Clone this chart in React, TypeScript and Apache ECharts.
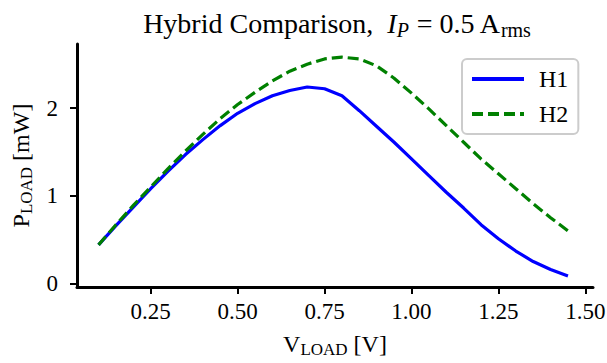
import React, { useEffect, useRef } from "react";
import * as echarts from "echarts";

const xValues = [0.1, 0.15, 0.2, 0.25, 0.3, 0.35, 0.4, 0.45, 0.5, 0.55, 0.6, 0.65, 0.7, 0.75, 0.8, 0.85, 0.9, 0.95, 1.0, 1.05, 1.1, 1.15, 1.2, 1.25, 1.3, 1.35, 1.4, 1.45];
const h1Values = [0.44, 0.66, 0.87, 1.08, 1.28, 1.47, 1.64, 1.8, 1.94, 2.05, 2.14, 2.2, 2.24, 2.22, 2.14, 1.97, 1.79, 1.61, 1.42, 1.23, 1.04, 0.86, 0.67, 0.51, 0.37, 0.25, 0.16, 0.085];
const h2Values = [0.44, 0.67, 0.89, 1.1, 1.31, 1.51, 1.7, 1.88, 2.04, 2.18, 2.31, 2.42, 2.5, 2.56, 2.58, 2.56, 2.48, 2.34, 2.17, 1.99, 1.8, 1.61, 1.42, 1.25, 1.08, 0.91, 0.75, 0.6];
const xTicks = [0.25, 0.5, 0.75, 1.0, 1.25, 1.5];
const yTicks = [0, 1, 2];
const seriesNames = ["H1", "H2"];

const FONT = "'Liberation Serif', 'Times New Roman', serif";

export default function App() {
  const ref = useRef<HTMLDivElement>(null);
  useEffect(() => {
    document.body.style.margin = "0";
    const chart = echarts.init(ref.current!, null, { renderer: "svg" });
    const labelRich = {
      n: { fontFamily: FONT, fontSize: 24, color: "#000", fontWeight: "normal" },
      s: { fontFamily: FONT, fontSize: 17, color: "#000", fontWeight: "normal", padding: [12, 0, 0, 0] },
    };
    chart.setOption({
      animation: false,
      backgroundColor: "#fff",
      title: {
        text: "{n|Hybrid Comparison,  }{i|I}{is|P}{n| = 0.5 A}{s|rms}",
        left: 332,
        top: 1,
        textAlign: "center",
        textStyle: {
          fontWeight: "normal",
          rich: {
            n: { fontFamily: FONT, fontSize: 28, fontWeight: "normal", color: "#000" },
            i: { fontFamily: FONT, fontSize: 28, fontWeight: "normal", fontStyle: "italic", color: "#000" },
            is: { fontFamily: FONT, fontSize: 20, fontWeight: "normal", fontStyle: "italic", color: "#000", padding: [14, 0, 0, 0] },
            s: { fontFamily: FONT, fontSize: 20, fontWeight: "normal", color: "#000", padding: [14, 0, 0, 0] },
          },
        },
      },
      grid: { left: 77, right: 14, top: 44, bottom: 76, containLabel: false, outerBoundsMode: "none" },
      legend: {
        orient: "vertical",
        left: 462,
        top: 59,
        padding: [8, 10, 8, 8],
        itemGap: 11,
        itemWidth: 52,
        itemHeight: 14,
        itemStyle: { opacity: 0 },
        lineStyle: { width: 4 },
        borderColor: "#cccccc",
        borderWidth: 2,
        borderRadius: 5,
        backgroundColor: "rgba(255,255,255,0.8)",
        textStyle: { fontFamily: FONT, fontSize: 24, color: "#000", padding: [0, 0, 0, 10] },
        data: seriesNames,
      },
      xAxis: {
        type: "value",
        min: 0.038,
        max: 1.522,
        name: "{n|V}{s|LOAD}{n| [V]}",
        nameLocation: "middle",
        nameGap: 42,
        nameTextStyle: { rich: labelRich },
        axisLine: { onZero: false, lineStyle: { color: "#000", width: 3 } },
        axisTick: { show: true, length: 7, customValues: xTicks, lineStyle: { color: "#000", width: 2 } },
        axisLabel: {
          customValues: xTicks,
          margin: 13,
          fontFamily: FONT,
          fontSize: 23,
          color: "#000",
          formatter: (v: number) => v.toFixed(2),
        },
        splitLine: { show: false },
      },
      yAxis: {
        type: "value",
        min: -0.04,
        max: 2.73,
        name: "{n|P}{s|LOAD}{n| [mW]}",
        nameLocation: "middle",
        nameGap: 42,
        nameTextStyle: { rich: labelRich },
        axisLine: { show: true, onZero: false, lineStyle: { color: "#000", width: 3 } },
        axisTick: { show: true, length: 7, customValues: yTicks, lineStyle: { color: "#000", width: 2 } },
        axisLabel: {
          customValues: yTicks,
          margin: 19,
          fontFamily: FONT,
          fontSize: 23,
          color: "#000",
          formatter: (v: number) => String(v),
        },
        splitLine: { show: false },
      },
      series: [
        {
          name: seriesNames[0],
          type: "line",
          symbol: "none",
          data: xValues.map((x, i) => [x, h1Values[i]]),
          lineStyle: { color: "#0000ff", width: 3.2 },
          itemStyle: { color: "#0000ff" },
          z: 2,
        },
        {
          name: seriesNames[1],
          type: "line",
          symbol: "none",
          data: xValues.map((x, i) => [x, h2Values[i]]),
          lineStyle: { color: "#008000", width: 3.2, type: [11, 5] },
          itemStyle: { color: "#008000" },
          z: 3,
        },
      ],
    });
    return () => chart.dispose();
  }, []);
  return <div ref={ref} style={{ position: "fixed", left: 0, top: 0, width: 607, height: 363 }} />;
}
